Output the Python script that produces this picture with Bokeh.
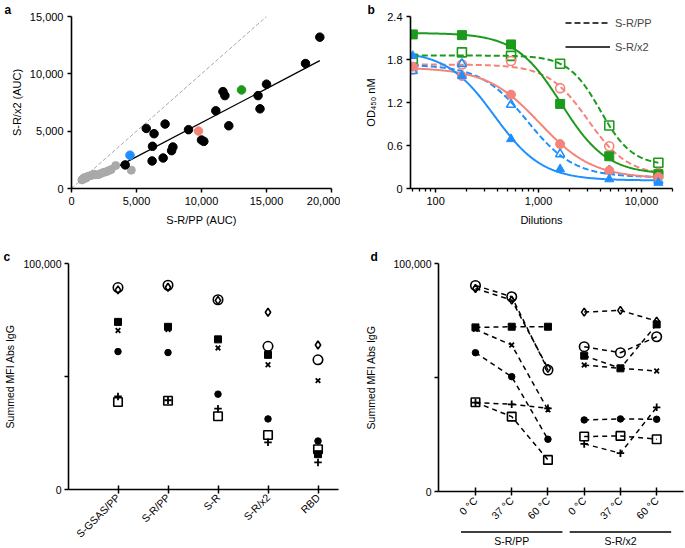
import math
import numpy as np
from bokeh.plotting import figure
from bokeh.layouts import column, row
from bokeh.models import Legend, LegendItem, FixedTicker, NumeralTickFormatter
from bokeh.core.properties import value
from bokeh.embed import file_html
from bokeh.resources import INLINE

FONT = "Liberation Sans"
GREEN = "#1b9a1b"
SALMON = "#f4837a"
BLUE = "#1e8fff"
GRAY = "#a9a9a9"

# ---------------- panel a data (AUC) ----------------
a_black_pp = [19100, 18000, 15000, 14350, 14500, 11650, 11800, 11100, 12100, 9000,
              10000, 10180, 5750, 6350, 7200, 6230, 7800, 7700, 6200, 7050, 4130]
a_black_x2 = [13200, 10900, 9100, 8100, 6950, 8450, 8100, 6780, 5470, 5130,
              4230, 4110, 5240, 4780, 5620, 3680, 3620, 3300, 2400, 2660, 2060]
a_gray_pp = [800, 900, 1000, 1100, 1250, 1400, 1550, 1700, 1850, 2050, 2250, 2450,
             2650, 2850, 3050, 3400, 4600]
a_gray_x2 = [750, 850, 950, 900, 1050, 1100, 1150, 1250, 1200, 1200, 1300, 1400,
             1450, 1550, 1650, 2000, 1600]
a_hl_pp = [4500, 9770, 13080]
a_hl_x2 = [2900, 5010, 8600]
a_hl_color = [BLUE, SALMON, GREEN]
a_identity = [0, 15000]
a_fit_pp = [3700, 19100]
a_fit_x2 = [1990, 11150]

# ---------------- panel b data (OD450) ----------------
dilutions = [60, 180, 540, 1620, 4860, 14580]
b_green_x2 = [2.15, 2.14, 2.01, 1.18, 0.45, 0.20]
b_green_pp = [1.81, 1.90, 1.85, 1.74, 0.88, 0.36]
b_salmon_x2 = [1.70, 1.57, 1.31, 0.62, 0.25, 0.16]
b_salmon_pp = [1.66, 1.73, 1.78, 1.40, 0.59, 0.22]
b_blue_x2 = [1.85, 1.57, 0.69, 0.27, 0.13, 0.08]
b_blue_pp = [1.64, 1.74, 1.17, 0.48, 0.25, 0.11]
b_legend = ["S-R/PP", "S-R/x2"]

# ---------------- panel c data (summed MFI) ----------------
c_categories = ["S-GSAS/PP", "S-R/PP", "S-R", "S-R/x2", "RBD"]
c_open_circle = [89350, 90370, 83950, 63360, 57380]
c_diamond = [88330, 89500, 83660, 78400, 63950]
c_filled_square = [74170, 71980, 66430, 59570, 15620]
c_cross = [70370, 70810, 62630, 55190, 48180]
c_filled_circle = [61030, 60590, 42190, 31240, 21460]
c_plus = [41170, 39500, 35770, 20880, 11970]
c_open_square = [38690, 39270, 32410, 24090, 17810]

# ---------------- panel d data (summed MFI) ----------------
d_temps = ["0 °C", "37 °C", "60 °C", "0 °C", "37 °C", "60 °C"]
d_groups = ["S-R/PP", "S-R/x2"]
d_open_circle = [90370, 85410, 53290, 63510, 60880, 67890]
d_diamond = [89060, 83950, 54020, 78690, 79420, 74750]
d_filled_square = [71980, 72270, 72270, 59570, 54020, 73290]
d_cross = [71100, 64240, 35800, 55480, 54020, 52850]
d_filled_circle = [60880, 50370, 22920, 31390, 31830, 31680]
d_plus = [39000, 38250, 36500, 20880, 16790, 36940]
d_open_square = [39130, 32850, 13870, 24090, 24380, 22920]


def style(p, fs="11px"):
    p.outline_line_color = None
    p.grid.visible = False
    for ax in p.axis:
        ax.axis_line_width = 1.6
        ax.axis_line_color = "black"
        ax.major_tick_line_width = 1.5
        ax.major_tick_line_color = "black"
        ax.minor_tick_line_color = None
        ax.major_tick_in = 0
        ax.major_tick_out = 4
        ax.major_label_standoff = 4
        ax.major_label_text_font = FONT
        ax.major_label_text_font_size = fs
        ax.major_label_text_color = "black"
        ax.axis_label_text_font = FONT
        ax.axis_label_text_font_size = fs
        ax.axis_label_text_font_style = "normal"
        ax.axis_label_text_color = "black"


def letter(p, txt, offset):
    t = p.title
    t.text = txt
    t.align = "left"
    t.offset = offset
    t.text_font = FONT
    t.text_font_size = "12px"
    t.text_font_style = "bold"
    t.text_color = "black"
    if "standoff" in t.properties():
        t.standoff = 0


# ================= panel a =================
pa = figure(width=340, height=240, x_range=(0, 20000), y_range=(0, 15000),
            output_backend="svg", toolbar_location=None,
            min_border_left=71, min_border_right=9, min_border_top=15, min_border_bottom=52)
style(pa)
pa.line(a_identity, a_identity, line_color=GRAY, line_width=1, line_dash="4 2")
pa.line(a_fit_pp, a_fit_x2, line_color="black", line_width=1.3)
pa.scatter(a_gray_pp, a_gray_x2, size=8, color=GRAY)
pa.scatter(a_black_pp, a_black_x2, size=8.5, color="black")
pa.scatter(a_hl_pp, a_hl_x2, size=8.5, color=a_hl_color)
pa.xaxis.ticker = FixedTicker(ticks=[0, 5000, 10000, 15000, 20000])
pa.yaxis.ticker = FixedTicker(ticks=[0, 5000, 10000, 15000])
pa.xaxis.formatter = NumeralTickFormatter(format="0,0")
pa.yaxis.formatter = NumeralTickFormatter(format="0,0")
pa.xaxis.axis_label = "S-R/PP (AUC)"
pa.yaxis.axis_label = "S-R/x2 (AUC)"
pa.yaxis.axis_label_standoff = 4
pa.xaxis.axis_label_standoff = 6
letter(pa, "a", -67)


# ================= panel b =================
def fit_4pl(x, y):
    lx = np.log10(np.asarray(x, dtype=float))
    yy = np.asarray(y, dtype=float)
    c = np.arange(1.8, 4.6, 0.01)[:, None, None]
    h = np.arange(0.6, 4.0, 0.02)[None, :, None]
    u = 1.0 / (1.0 + 10.0 ** (h * (lx[None, None, :] - c)))
    v = 1.0 - u
    suu = (u * u).sum(-1); svv = (v * v).sum(-1); suv = (u * v).sum(-1)
    suy = (u * yy).sum(-1); svy = (v * yy).sum(-1)
    det = suu * svv - suv ** 2
    with np.errstate(all="ignore"):
        top = (suy * svv - svy * suv) / det
        bot = (svy * suu - suy * suv) / det
        sse = ((yy - top[..., None] * u - bot[..., None] * v) ** 2).sum(-1)
    sse[~np.isfinite(sse)] = np.inf
    i, j = np.unravel_index(np.argmin(sse), sse.shape)
    return top[i, j], bot[i, j], c[i, 0, 0], h[0, j, 0]


def curve(x, y):
    top, bot, c, h = fit_4pl(x, y)
    xs = np.logspace(np.log10(min(x)), np.log10(max(x)), 250)
    ys = bot + (top - bot) / (1.0 + 10.0 ** (h * (np.log10(xs) - c)))
    return xs, ys


pb = figure(width=344, height=240, x_axis_type="log", x_range=(57, 20000), y_range=(0, 2.4),
            output_backend="svg", toolbar_location=None,
            min_border_left=70, min_border_right=12, min_border_top=15, min_border_bottom=52)
style(pb)
series = [
    (b_green_pp, GREEN, "dashed", "square"),
    (b_salmon_pp, SALMON, "dashed", "circle"),
    (b_blue_pp, BLUE, "dashed", "triangle"),
    (b_green_x2, GREEN, "solid", "square"),
    (b_salmon_x2, SALMON, "solid", "circle"),
    (b_blue_x2, BLUE, "solid", "triangle"),
]
for vals, col, dash, mk in series:
    xs, ys = curve(dilutions, vals)
    pb.line(xs, ys, line_color=col, line_width=2,
            line_dash=("6 3" if dash == "dashed" else "solid"))
for vals, col, dash, mk in series:
    if dash == "dashed":
        pb.scatter(dilutions, vals, marker=mk, size=9, fill_color=None, line_color=col, line_width=1.6)
    else:
        pb.scatter(dilutions, vals, marker=mk, size=9, fill_color=col, line_color=col)
pb.xaxis.ticker = FixedTicker(
    ticks=[100, 1000, 10000],
    minor_ticks=[60, 70, 80, 90, 200, 300, 400, 500, 600, 700, 800, 900,
                 2000, 3000, 4000, 5000, 6000, 7000, 8000, 9000, 20000])
pb.xaxis.minor_tick_line_color = "black"
pb.xaxis.minor_tick_line_width = 1.3
pb.xaxis.minor_tick_in = 0
pb.xaxis.minor_tick_out = 3
pb.xaxis.formatter = NumeralTickFormatter(format="0,0")
pb.yaxis.ticker = FixedTicker(ticks=[0, 0.6, 1.2, 1.8, 2.4])
pb.yaxis.formatter = NumeralTickFormatter(format="0.[0]")
pb.xaxis.axis_label = "Dilutions"
pb.yaxis.axis_label = "OD₄₅₀ nM"
pb.yaxis.axis_label_standoff = 7
pb.xaxis.axis_label_standoff = 6
r_pp = pb.line(x=[np.nan], y=[np.nan], line_color="black", line_width=1.6, line_dash="6 3")
r_x2 = pb.line(x=[np.nan], y=[np.nan], line_color="black", line_width=1.6)
leg = Legend(items=[LegendItem(label=b_legend[0], renderers=[r_pp]),
                    LegendItem(label=b_legend[1], renderers=[r_x2])],
             location=(155, 135), padding=0, margin=0, spacing=11,
             glyph_width=45, glyph_height=13, label_height=13, label_standoff=5,
             label_text_font=FONT, label_text_font_size="11px",
             background_fill_alpha=0, border_line_color=None)
pb.add_layout(leg)
letter(pb, "b", -43)


# ================= panels c / d helpers =================
def mfi_markers(p, xs, oc, di, fs, cr, fc, pl, os_):
    p.scatter(xs, os_, marker="square", size=8.5, fill_color=None, line_color="black", line_width=1.6)
    p.scatter(xs, pl, marker="cross", size=7.5, line_color="black", line_width=1.8)
    p.scatter(xs, fc, marker="circle", size=6.5, color="black")
    p.scatter(xs, cr, marker="x", size=6.5, line_color="black", line_width=1.8)
    p.scatter(xs, fs, marker="square", size=7, color="black")
    p.scatter(xs, di, marker="diamond", size=8, fill_color=None, line_color="black", line_width=1.6)
    p.scatter(xs, oc, marker="circle", size=9.5, fill_color=None, line_color="black", line_width=1.6)


def mfi_axes(p, xs, labels, standoff):
    style(p, "10.5px")
    p.yaxis.ticker = FixedTicker(ticks=[0, 50000, 100000])
    p.yaxis.formatter = NumeralTickFormatter(format="0,0")
    p.yaxis.major_label_overrides = {50000: ""}
    p.yaxis.axis_label = "Summed MFI Abs IgG"
    p.yaxis.major_label_standoff = 3
    p.xaxis.ticker = FixedTicker(ticks=list(xs))
    p.xaxis.major_label_overrides = {x: lab for x, lab in zip(xs, labels)}
    p.xaxis.major_label_orientation = math.pi / 4
    p.xaxis.major_label_standoff = standoff
    p.xaxis.major_tick_in = 4
    p.xaxis.major_tick_out = 4


# ================= panel c =================
pc = figure(width=340, height=307, x_range=(0.01, 5.41), y_range=(0, 100000),
            output_backend="svg", toolbar_location=None,
            min_border_left=68, min_border_right=2, min_border_top=23, min_border_bottom=55)
cx = list(range(1, len(c_categories) + 1))
mfi_axes(pc, cx, c_categories, 2)
pc.yaxis.axis_label_standoff = 5
mfi_markers(pc, cx, c_open_circle, c_diamond, c_filled_square, c_cross,
            c_filled_circle, c_plus, c_open_square)
letter(pc, "c", -65)

# ================= panel d =================
pdd = figure(width=344, height=288, x_range=(-0.02, 6.74), y_range=(0, 100000),
             output_backend="svg", toolbar_location=None,
             min_border_left=98, min_border_right=1, min_border_top=23, min_border_bottom=36)
dx = list(range(1, len(d_temps) + 1))
mfi_axes(pdd, dx, d_temps, 3)
pdd.yaxis.axis_label_standoff = 14
for series_vals in [d_open_circle, d_diamond, d_filled_square, d_cross,
                    d_filled_circle, d_plus, d_open_square]:
    for g in range(2):
        pdd.line(dx[3 * g:3 * g + 3], series_vals[3 * g:3 * g + 3],
                 line_color="black", line_width=1.5, line_dash="5 4")
mfi_markers(pdd, dx, d_open_circle, d_diamond, d_filled_square, d_cross,
            d_filled_circle, d_plus, d_open_square)
letter(pdd, "d", -68)

# strip under panel d carrying the group brackets
sd = figure(width=344, height=19, x_range=pdd.x_range, y_range=(0, 19),
            x_axis_location=None, y_axis_location=None,
            output_backend="svg", toolbar_location=None,
            min_border_left=98, min_border_right=1, min_border_top=0, min_border_bottom=0)
sd.outline_line_color = None
sd.grid.visible = False
gx = [float(np.mean(dx[3 * g:3 * g + 3])) for g in range(len(d_groups))]
sd.segment(x0=[g - 1.4 for g in gx], y0=[15.5] * len(gx),
           x1=[g + 1.4 for g in gx], y1=[15.5] * len(gx),
           line_color="black", line_width=1.5)
sd.text(x=gx, y=[6.5] * len(gx), text=d_groups, text_align="center", text_baseline="middle",
        text_font=value(FONT), text_font_size="10.5px", text_color="black")

layout = column(row(pa, pb), row(pc, column(pdd, sd)))
open("out.html", "w").write(file_html(layout, INLINE))
